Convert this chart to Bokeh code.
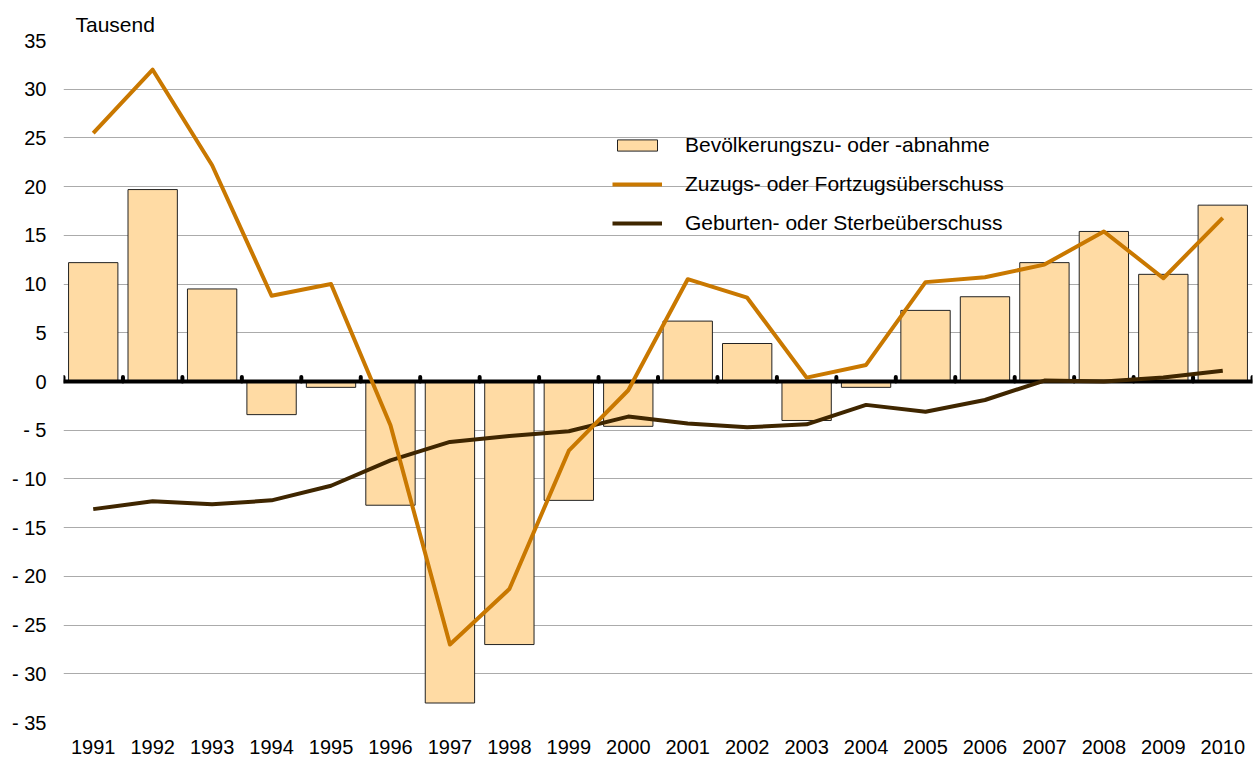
from bokeh.plotting import figure
from bokeh.models import (ColumnDataSource, FixedTicker, Legend, LegendItem, Range1d)
from bokeh.embed import file_html
from bokeh.resources import INLINE

years = list(range(1991, 2011))
bevoelkerung = [12.2, 19.7, 9.5, -3.4, -0.6, -12.7, -33.0, -27.0, -12.2, -4.6,
                6.2, 3.9, -4.0, -0.6, 7.3, 8.7, 12.2, 15.4, 11.0, 18.1]
zuzug = [25.5, 32.0, 22.2, 8.8, 10.0, -4.5, -27.0, -21.3, -7.1, -0.9,
         10.5, 8.6, 0.4, 1.7, 10.2, 10.7, 12.0, 15.4, 10.6, 16.8]
geburten = [-13.1, -12.3, -12.6, -12.2, -10.7, -8.1, -6.2, -5.6, -5.1, -3.6,
            -4.3, -4.7, -4.4, -2.4, -3.1, -1.9, 0.1, 0.0, 0.4, 1.1]
y_ticks = list(range(-35, 40, 5))
y_tick_labels = {t: (f"- {abs(t)}" if t < 0 else str(t)) for t in y_ticks}
legend_labels = ["Bevölkerungszu- oder -abnahme", "Zuzugs- oder Fortzugsüberschuss",
                 "Geburten- oder Sterbeüberschuss"]
unit_label = "Tausend"

FONT = "Liberation Sans"
FS = "20px"
BAR_FILL = "#FFDBA4"
ORANGE = "#C97800"
DARK = "#3F2600"

src = ColumnDataSource(dict(year=years, bev=bevoelkerung, zu=zuzug, geb=geburten))

p = figure(width=1256, height=762, output_backend="svg", toolbar_location=None,
           x_range=Range1d(years[0] - 0.5, years[-1] + 0.5), y_range=Range1d(-35, 35),
           min_border_left=63, min_border_right=4, min_border_top=40, min_border_bottom=40)
p.outline_line_color = None
p.background_fill_color = "white"

# title used as unit label
p.title.text = unit_label
p.title.text_font = FONT
p.title.text_font_size = "21px"
p.title.text_font_style = "normal"
p.title.text_color = "#000000"
p.title.align = "left"
p.title.offset = 12
p.title.standoff = 10

# axes
p.xaxis.ticker = FixedTicker(ticks=years)
p.xaxis.major_label_overrides = {y: str(y) for y in years}
p.yaxis.ticker = FixedTicker(ticks=y_ticks)
p.yaxis.major_label_overrides = y_tick_labels
for ax in (p.xaxis[0], p.yaxis[0]):
    ax.axis_line_color = None
    ax.major_tick_line_color = None
    ax.minor_tick_line_color = None
    ax.major_tick_out = 0
    ax.major_tick_in = 0
    ax.major_label_text_font = FONT
    ax.major_label_text_font_size = FS
    ax.major_label_text_color = "#000000"
p.yaxis.major_label_standoff = 17
p.xaxis.major_label_standoff = 17
p.xgrid.grid_line_color = None
p.ygrid.ticker = FixedTicker(ticks=y_ticks)
p.ygrid.grid_line_color = "#ababab"
p.ygrid.grid_line_width = 1

bars = p.vbar(x="year", top="bev", bottom=0, width=0.83, source=src,
              fill_color=BAR_FILL, line_color="#222222", line_width=1)

# zero line with small marks at category boundaries
p.line(x=[years[0] - 0.5, years[-1] + 0.5], y=[0, 0], line_color="black", line_width=4)
bounds = [y - 0.5 for y in years] + [years[-1] + 0.5]
p.segment(x0=bounds, y0=[0] * len(bounds), x1=bounds, y1=[0.45] * len(bounds),
          line_color="black", line_width=4, line_cap="round")

l_geb = p.line(x="year", y="geb", source=src, line_color=DARK, line_width=4, line_join="round")
l_zu = p.line(x="year", y="zu", source=src, line_color=ORANGE, line_width=4, line_join="round")

legend = Legend(items=[LegendItem(label=legend_labels[0], renderers=[bars]),
                       LegendItem(label=legend_labels[1], renderers=[l_zu]),
                       LegendItem(label=legend_labels[2], renderers=[l_geb])],
                location=(549, 487), orientation="vertical")
legend.glyph_width = 50
legend.glyph_height = 14
legend.label_height = 14
legend.spacing = 15
legend.padding = 0
legend.margin = 0
legend.label_standoff = 23
legend.label_text_font = FONT
legend.label_text_font_size = "21px"
legend.label_text_color = "#000000"
legend.border_line_color = None
legend.background_fill_alpha = 0
p.add_layout(legend)

open("out.html", "w").write(file_html(p, INLINE))
